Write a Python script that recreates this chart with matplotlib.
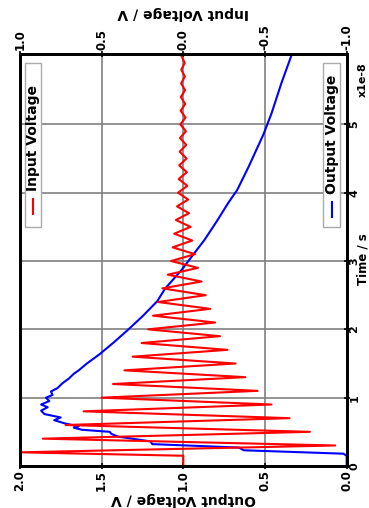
import numpy as np
import matplotlib
matplotlib.use("Agg")
import matplotlib.pyplot as plt
from matplotlib.patches import Rectangle
from matplotlib.lines import Line2D

plt.rcParams['axes.unicode_minus'] = False

# time in units of 1e-8 s
t_out = [0.0, 0.15, 0.18, 0.23, 0.27, 0.32, 0.36, 0.43, 0.47, 0.50, 0.53, 0.56,
         0.58, 0.62, 0.67, 0.71, 0.76, 0.81, 0.86, 0.90, 0.95, 1.00, 1.04, 1.09,
         1.14, 1.21, 1.28, 1.35, 1.40, 1.50, 1.64, 1.82, 1.99, 2.19, 2.41, 2.60,
         2.87, 3.06, 3.31, 3.60, 3.85, 4.04, 4.38, 4.85, 5.16, 5.60, 6.03]
v_out = [0.0, 0.0, 0.02, 0.63, 0.66, 1.19, 1.20, 1.40, 1.44, 1.45, 1.62, 1.67,
         1.64, 1.72, 1.79, 1.75, 1.85, 1.87, 1.83, 1.87, 1.82, 1.84, 1.80, 1.81,
         1.77, 1.74, 1.70, 1.67, 1.64, 1.59, 1.51, 1.42, 1.34, 1.25, 1.16, 1.11,
         1.01, 0.95, 0.87, 0.79, 0.725, 0.67, 0.60, 0.51, 0.46, 0.40, 0.335]

t_in = [0.0, 0.15] + [round(0.2 + 0.1 * i, 2) for i in range(59)]
v_in = [0.0, 0.0,
        1.0, -0.93, 0.86, -0.775, 0.72, -0.65, 0.61, -0.54, 0.50,
        -0.455, 0.43, -0.38, 0.36, -0.32, 0.31, -0.27, 0.255, -0.225, 0.215,
        -0.195, 0.185, -0.165, 0.155, -0.137, 0.128, -0.112, 0.095, -0.09, 0.075,
        -0.072, 0.065, -0.055, 0.055, -0.045, 0.045, -0.035, 0.038, -0.03, 0.032,
        -0.025, 0.028, -0.022, 0.025, -0.02, 0.022, -0.018, 0.02, -0.016, 0.018,
        -0.014, 0.016, -0.012, 0.015, -0.011, 0.013, -0.01, 0.012, -0.009, 0.011]

out_ticks = [2.0, 1.5, 1.0, 0.5, 0.0]
in_ticks = [1.0, 0.5, 0.0, -0.5, -1.0]
time_ticks = [0, 1, 2, 3, 4, 5]

fig = plt.figure(figsize=(3.69, 5.08), dpi=100)
ax = fig.add_axes([0.0539, 0.0827, 0.8856, 0.811])

# the whole chart is drawn turned a quarter turn
ax.plot(v_out, t_out, color='b', lw=1.5)
ax.set_xlim(2.0, 0.0)
ax.set_ylim(0, 6.03)
ax.set_xticks(out_ticks)
ax.set_xticklabels(['%.1f' % v for v in out_ticks], rotation=90,
                   fontsize=8.5, fontweight='bold')
ax.yaxis.tick_right()
ax.set_yticks(time_ticks)
ax.set_yticklabels([str(v) for v in time_ticks], rotation=90,
                   fontsize=8, fontweight='bold', va='center')
ax.tick_params(axis='both', direction='inout', length=4, width=1.2, pad=1)
ax.tick_params(axis='y', pad=0)
ax.grid(True, color='gray', lw=1.2)

ax2 = ax.twiny()
ax2.plot(v_in, t_in, color='r', lw=1.5)
ax2.set_xlim(1.0, -1.0)
ax2.set_xticks(in_ticks)
ax2.set_xticklabels(['%.1f' % v for v in in_ticks], rotation=90,
                    fontsize=8.5, fontweight='bold')
ax2.tick_params(axis='x', direction='inout', length=4, width=1.2, pad=1)

for a in (ax, ax2):
    for s in a.spines.values():
        s.set_linewidth(2)

# axis titles, turned with the chart
fig.text(183 / 369, 1 - 499 / 508, 'Output Voltage / V', rotation=180,
         fontsize=10, fontweight='bold', ha='center', va='center')
fig.text(183 / 369, 1 - 13 / 508, 'Input Voltage / V', rotation=180,
         fontsize=10, fontweight='bold', ha='center', va='center')
fig.text(362.5 / 369, 1 - 259 / 508, 'Time / s', rotation=90,
         fontsize=8.5, fontweight='bold', ha='center', va='center')
fig.text(362.5 / 369, 1 - 80 / 508, 'x1e-8', rotation=90, fontsize=8,
         fontweight='bold', ha='center', va='center')

# rotated legends
for x0, w, xl, yl, col, lab in [(0.0156, 0.049, 0.041, (0.612, 0.648), 'r', 'Input Voltage'),
                                (0.928, 0.0515, 0.954, (0.605, 0.64), 'b', 'Output Voltage')]:
    ax2.add_patch(Rectangle((x0, 0.58), w, 0.398, transform=ax2.transAxes,
                            facecolor='white', edgecolor='#aaaaaa', lw=1, zorder=5))
    ax2.add_line(Line2D([xl, xl], yl, transform=ax2.transAxes, color=col,
                        lw=1.5, zorder=6))
    ax2.text(xl, yl[1] + 0.02, lab, transform=ax2.transAxes, rotation=90,
             ha='center', va='bottom', fontsize=10, fontweight='bold', zorder=6)

fig.savefig('out.png', dpi=100)
